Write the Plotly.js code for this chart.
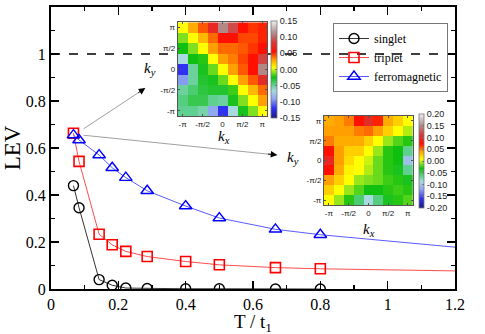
<!DOCTYPE html>
<html>
<head>
<meta charset="utf-8">
<script src="https://cdn.plot.ly/plotly-3.0.1.min.js"></script>
<style>html,body{margin:0;padding:0;background:#fff}#chart{width:485px;height:334px}</style>
</head>
<body>
<div id="chart"></div>
<script>
// ---- data ----
const T = [0.0667, 0.0833, 0.1429, 0.1818, 0.2222, 0.2857, 0.4, 0.5, 0.6667, 0.8];
const singlet = [0.44, 0.346, 0.04, 0.016, 0.004, 0.002, 0.001, 0.001, 0.0, 0.0];
const triplet = [0.663, 0.543, 0.233, 0.188, 0.16, 0.138, 0.117, 0.103, 0.091, 0.086];
const ferro = [0.655, 0.634, 0.57, 0.516, 0.474, 0.418, 0.353, 0.302, 0.254, 0.231];
const fitT = [0.8, 1.0, 1.2];
const tripletFit = [0.086, 0.081, 0.077];
const ferroFit = [0.231, 0.203, 0.178];
const refLevel = 1;

const kIdx = [0, 1, 2, 3, 4, 5, 6, 7, 8];
const kRows = [8, 7, 6, 5, 4, 3, 2, 1, 0];
const kTickVals = [0, 2, 4, 6, 8];
const kTickText = ['-π', '-π/2', '0', 'π/2', 'π'];

// inset 1 (rows from ky = π down to ky = -π)
const gap1 = [
  [0.006, 0.027, 0.042, 0.072, 0.111, 0.090, 0.054, 0.048, 0.051],
  [-0.009, 0.006, 0.024, 0.039, 0.054, 0.054, 0.045, 0.045, 0.051],
  [-0.024, -0.009, 0.006, 0.030, 0.039, 0.039, 0.042, 0.048, 0.054],
  [-0.066, -0.024, -0.021, 0.006, 0.030, 0.036, 0.045, 0.054, 0.087],
  [-0.120, -0.051, -0.027, -0.012, 0.006, 0.030, 0.042, 0.054, 0.111],
  [-0.093, -0.051, -0.030, -0.027, -0.012, 0.006, 0.030, 0.042, 0.075],
  [-0.051, -0.042, -0.033, -0.030, -0.030, -0.018, 0.006, 0.024, 0.039],
  [-0.045, -0.036, -0.036, -0.048, -0.051, -0.027, -0.009, 0.006, 0.030],
  [-0.048, -0.048, -0.054, -0.090, -0.120, -0.066, -0.027, -0.009, 0.006]
];
const cb1Ticks = [-0.15, -0.10, -0.05, 0.00, 0.05, 0.10, 0.15];

// inset 2
const gap2 = [
  [0.036, 0.040, 0.048, 0.072, 0.100, 0.068, 0.036, 0.024, 0.008],
  [0.040, 0.040, 0.040, 0.048, 0.052, 0.040, 0.024, 0.008, -0.004],
  [0.048, 0.036, 0.036, 0.036, 0.024, 0.008, -0.008, -0.020, -0.028],
  [0.072, 0.040, 0.024, 0.024, 0.008, -0.008, -0.028, -0.032, -0.064],
  [0.096, 0.040, 0.020, 0.008, 0.000, -0.016, -0.028, -0.032, -0.104],
  [0.072, 0.036, 0.012, 0.008, -0.004, -0.016, -0.028, -0.036, -0.064],
  [0.040, 0.024, 0.008, -0.008, -0.012, -0.016, -0.024, -0.028, -0.036],
  [0.024, 0.008, -0.008, -0.020, -0.032, -0.032, -0.028, -0.024, -0.028],
  [0.008, -0.008, -0.028, -0.056, -0.088, -0.060, -0.036, -0.028, -0.020]
];
const cb2Ticks = [-0.20, -0.15, -0.10, -0.05, 0.00, 0.05, 0.10, 0.15, 0.20];

// ---- styling ----
const cscale = [
  [0.00, '#1c1c80'], [0.10, '#3030f0'], [0.20, '#90a8f0'], [0.28, '#a8d8e0'],
  [0.34, '#60d090'], [0.42, '#10c010'], [0.47, '#80e020'], [0.52, '#ffff00'],
  [0.60, '#ffa000'], [0.68, '#ff1000'], [0.78, '#d83838'], [0.88, '#b09090'],
  [1.00, '#f0f0f0']
];
const serif = 'Liberation Serif';
const sans = 'Liberation Sans';
const W = 485, H = 334, mL = 51, mR = 30, mT = 7, mB = 45;
const pw = W - mL - mR, ph = H - mT - mB;
const px = v => (v - mL) / pw;
const py = v => (H - mB - v) / ph;

const traces = [
  {x: T, y: singlet, name: 'singlet', mode: 'lines+markers', type: 'scatter',
   line: {color: '#000', width: 0.8},
   marker: {symbol: 'circle-open', size: 10, color: '#000', line: {width: 1.4}}},
  {x: T, y: triplet, name: 'triplet', mode: 'lines+markers', type: 'scatter',
   line: {color: '#ff2020', width: 0.8},
   marker: {symbol: 'square-open', size: 10, color: '#ff0000', line: {width: 1.6}}},
  {x: T, y: ferro, name: 'ferromagnetic', mode: 'lines+markers', type: 'scatter',
   line: {color: '#3030ff', width: 0.8},
   marker: {symbol: 'triangle-up-open', size: 11, color: '#0000ff', line: {width: 1.4}}},
  {x: fitT, y: tripletFit, mode: 'lines', type: 'scatter', showlegend: false,
   line: {color: '#ff2020', width: 0.8}, hoverinfo: 'skip'},
  {x: fitT, y: ferroFit, mode: 'lines', type: 'scatter', showlegend: false,
   line: {color: '#3030ff', width: 0.8}, hoverinfo: 'skip'},
  {z: gap1, x: kIdx, y: kRows, type: 'heatmap', xaxis: 'x2', yaxis: 'y2',
   colorscale: cscale, zmin: -0.15, zmax: 0.15, showlegend: false,
   colorbar: {x: px(271), xanchor: 'left', xpad: 0, y: py(69.5), yanchor: 'middle', ypad: 0,
     len: 97 / ph, lenmode: 'fraction', thickness: 6, thicknessmode: 'pixels',
     outlinewidth: 0.8, outlinecolor: '#777', tickvals: cb1Ticks, ticktext: cb1Ticks.map(v => v.toFixed(2)),
     ticks: 'inside', ticklen: 2, tickcolor: '#777', tickfont: {family: sans, size: 9, color: '#222'}}},
  {z: gap2, x: kIdx, y: kRows, type: 'heatmap', xaxis: 'x3', yaxis: 'y3',
   colorscale: cscale, zmin: -0.20, zmax: 0.20, showlegend: false,
   colorbar: {x: px(418.7), xanchor: 'left', xpad: 0, y: py(161), yanchor: 'middle', ypad: 0,
     len: 94 / ph, lenmode: 'fraction', thickness: 5, thicknessmode: 'pixels',
     outlinewidth: 0.8, outlinecolor: '#777', tickvals: cb2Ticks, ticktext: cb2Ticks.map(v => v.toFixed(2)),
     ticks: 'inside', ticklen: 2, tickcolor: '#777', tickfont: {family: sans, size: 9, color: '#222'}}}
];

const mainAxis = (title) => ({
  range: [0, 1.2], tick0: 0, dtick: 0.2, ticks: 'inside', ticklen: 8, tickwidth: 1.5,
  tickcolor: '#000', showline: true, linewidth: 2, linecolor: '#000', mirror: 'allticks',
  showgrid: false, zeroline: false, automargin: false,
  minor: {dtick: 0.1, ticks: 'inside', ticklen: 4, tickwidth: 1.5, tickcolor: '#000', showgrid: false},
  tickfont: {family: serif, size: 16, color: '#000'},
  title: title
});
const insetX = (d) => ({
  domain: d, range: [-0.5, 8.5], tickvals: kTickVals, ticktext: kTickText, ticks: 'inside', ticklen: 2,
  tickcolor: '#555', showline: true, linecolor: '#555', linewidth: 1, mirror: 'ticks', showgrid: false,
  zeroline: false, automargin: false, fixedrange: true, tickfont: {family: sans, size: 8, color: '#222'}
});
const lab = (x, y, t, size) => ({xref: 'paper', yref: 'paper', x: px(x), y: py(y), xanchor: 'center', yanchor: 'middle',
  text: t, showarrow: false, font: {family: serif, size: size || 15, color: '#000'}});

const layout = {
  width: W, height: H, margin: {l: mL, r: mR, t: mT, b: mB},
  paper_bgcolor: '#fff', plot_bgcolor: 'rgba(0,0,0,0)', showlegend: true,
  xaxis: Object.assign(mainAxis({text: ''}), {domain: [0, 1]}),
  yaxis: Object.assign(mainAxis({text: 'LEV', font: {family: serif, size: 23, color: '#000'}, standoff: 1}), {domain: [0, 1]}),
  xaxis2: Object.assign(insetX([px(177.7), px(267.3)]), {anchor: 'y2'}),
  yaxis2: Object.assign(insetX([py(116), py(22.3)]), {anchor: 'x2'}),
  xaxis3: Object.assign(insetX([px(324), px(412.7)]), {anchor: 'y3'}),
  yaxis3: Object.assign(insetX([py(205), py(116)]), {anchor: 'x3'}),
  legend: {x: px(333), y: py(23), xanchor: 'left', yanchor: 'top', bgcolor: 'rgba(0,0,0,0)',
    bordercolor: '#777', borderwidth: 1, font: {family: serif, size: 12, color: '#000'},
    itemwidth: 30, tracegroupgap: 0},
  shapes: [
    {type: 'line', xref: 'x', yref: 'y', x0: 0, x1: 1.2, y0: refLevel, y1: refLevel,
     line: {color: '#000', width: 1.3, dash: 'dash'}, layer: 'below'},
    {type: 'rect', xref: 'paper', yref: 'paper', x0: px(150), x1: px(305), y0: py(145), y1: py(9),
     fillcolor: '#fff', line: {width: 0}, layer: 'below'}
  ],
  annotations: [
    {xref: 'x', yref: 'y', axref: 'x', ayref: 'y', x: 0.28, y: 0.855, ax: 0.092, ay: 0.677,
     text: '', showarrow: true, arrowhead: 0, arrowwidth: 0.8, arrowcolor: '#888'},
    {xref: 'x', yref: 'y', axref: 'x', ayref: 'y', x: 0.28, y: 0.855, ax: 0.255, ay: 0.831,
     text: '', showarrow: true, arrowhead: 2, arrowsize: 1.3, arrowwidth: 1, arrowcolor: '#000'},
    {xref: 'x', yref: 'y', axref: 'x', ayref: 'y', x: 0.672, y: 0.570, ax: 0.092, ay: 0.655,
     text: '', showarrow: true, arrowhead: 0, arrowwidth: 0.8, arrowcolor: '#888'},
    {xref: 'x', yref: 'y', axref: 'x', ayref: 'y', x: 0.672, y: 0.570, ax: 0.64, ay: 0.575,
     text: '', showarrow: true, arrowhead: 2, arrowsize: 1.3, arrowwidth: 1, arrowcolor: '#000'},
    lab(150, 69, '<i>k<sub>y</sub></i>'),
    lab(224, 137, '<i>k<sub>x</sub></i>'),
    lab(293, 158, '<i>k<sub>y</sub></i>'),
    lab(369, 230, '<i>k<sub>x</sub></i>'),
    lab(253, 323, 'T / t<sub>1</sub>', 19)
  ]
};

Plotly.newPlot('chart', traces, layout, {staticPlot: true, displayModeBar: false});
</script>
</body>
</html>
